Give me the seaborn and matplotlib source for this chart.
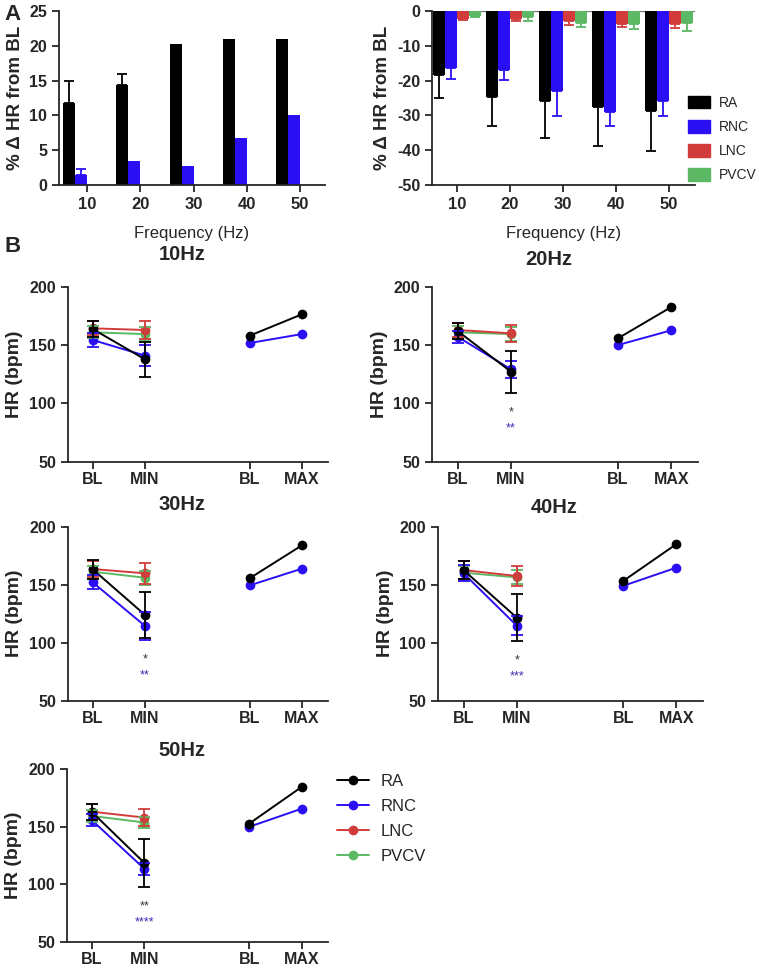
import matplotlib
matplotlib.use('Agg')
import matplotlib.pyplot as plt
import seaborn as sns
import pandas as pd
import numpy as np
from matplotlib.patches import Patch
from matplotlib.lines import Line2D

sns.set_style('ticks')
plt.rcParams['font.family'] = ['Liberation Sans', 'DejaVu Sans']
plt.rcParams['axes.unicode_minus'] = False

groups = ['RA', 'RNC', 'LNC', 'PVCV']
colors = ['#000000', '#2a0ff5', '#d23b3b', '#5cb862']
palette = dict(zip(groups, colors))
freqs = ['10', '20', '30', '40', '50']

# A left: % increase in HR from BL
inc_ra = [11.8, 14.4, 20.3, 21.0, 21.0]
inc_ra_err = [3.1, 1.5, 0, 0, 0]
inc_rnc = [1.4, 3.4, 2.7, 6.8, 10.1]
inc_rnc_err = [0.9, 0, 0, 0, 0]
inc_lnc = [0, 0, 0, 0, 0]
inc_pvcv = [0, 0, 0, 0, 0]

# A right: % decrease in HR from BL
dec_ra = [-18.4, -24.6, -25.9, -27.6, -28.6]
dec_ra_err = [6.5, 8.4, 10.5, 11.1, 11.6]
dec_rnc = [-16.3, -16.9, -23.1, -29.1, -25.9]
dec_rnc_err = [3.1, 3.0, 7.0, 4.0, 4.2]
dec_lnc = [-2.4, -2.4, -2.9, -3.6, -3.6]
dec_lnc_err = [0.2, 0.5, 1.0, 1.1, 1.3]
dec_pvcv = [-1.4, -1.8, -3.4, -3.6, -3.5]
dec_pvcv_err = [0.2, 1.0, 1.1, 1.7, 2.2]

# B: HR (bpm) at BL / MIN for each frequency
bl_ra = [163.7, 162.0, 163.2, 162.6, 162.7]
bl_ra_err = [7, 7, 8, 8, 7]
min_ra = [137.7, 127.1, 123.9, 121.6, 118.6]
min_ra_err = [15, 18, 20, 20, 20.5]
bl_rnc = [154.3, 157.1, 152.0, 159.8, 155.6]
bl_rnc_err = [6, 5, 6, 7, 5]
min_rnc = [140.9, 129.1, 114.4, 114.7, 113.5]
min_rnc_err = [9, 7, 12, 8, 5]
bl_lnc = [164.3, 162.9, 163.5, 162.6, 163.0]
bl_lnc_err = [6, 6, 7, 8, 7]
min_lnc = [162.9, 160.0, 159.8, 157.5, 157.9]
min_lnc_err = [8, 7, 9, 9, 7]
bl_pvcv = [160.9, 160.9, 161.2, 160.3, 159.3]
bl_pvcv_err = [5, 5, 5, 6, 5]
min_pvcv = [159.4, 159.4, 156.0, 156.3, 153.6]
min_pvcv_err = [6, 6, 6, 6, 5]
# BL / MAX
bl2_ra = [158.0, 155.7, 155.5, 153.2, 152.7]
max_ra = [176.3, 182.6, 183.9, 185.0, 184.5]
bl2_rnc = [151.7, 150.0, 149.4, 149.0, 149.9]
max_rnc = [159.4, 162.6, 163.8, 164.7, 165.6]
sig_ra = ['', '*', '*', '*', '**']
sig_rnc = ['', '**', '**', '***', '****']
titles = ['10Hz', '20Hz', '30Hz', '40Hz', '50Hz']

W, H = 759, 969
fig = plt.figure(figsize=(W / 100, H / 100), dpi=100)


def px_axes(x0, y0, x1, y1):
    return fig.add_axes([x0 / W, 1 - y1 / H, (x1 - x0) / W, (y1 - y0) / H])


def style(ax):
    sns.despine(ax=ax)
    for s in ['left', 'bottom']:
        ax.spines[s].set_linewidth(1.3)
    ax.tick_params(width=1.3, length=5)
    for lab in ax.get_xticklabels() + ax.get_yticklabels():
        lab.set_fontweight('bold')


def bar_panel(ax, means, errs):
    df = pd.DataFrame({
        'freq': freqs * len(groups),
        'val': sum(means, []),
        'group': np.repeat(groups, len(freqs)),
    })
    sns.barplot(data=df, x='freq', y='val', hue='group', order=freqs,
                hue_order=groups, palette=palette, errorbar=None, width=0.9,
                saturation=1, linewidth=0, legend=False, ax=ax)
    for cont, m, e, c in zip(ax.containers, means, errs, colors):
        for bar, v, er in zip(cont, m, e):
            if er <= 0:
                continue
            x = bar.get_x() + bar.get_width() / 2
            yerr = [[0], [er]] if v > 0 else [[er], [0]]
            ax.errorbar([x], [v], yerr=yerr, fmt='none', ecolor=c,
                        elinewidth=1.3, capsize=3.5, capthick=1.3)
    ax.set_xlabel('Frequency (Hz)', fontsize=12, labelpad=10)
    ax.set_ylabel('% Δ HR from BL', fontsize=13.5, fontweight='bold')
    ax.tick_params(axis='x', labelsize=12)
    ax.tick_params(axis='y', labelsize=11.5)


# ---- A ----
axA1 = px_axes(59, 11, 325, 185)
bar_panel(axA1, [inc_ra, inc_rnc, inc_lnc, inc_pvcv],
          [inc_ra_err, inc_rnc_err, [0] * 5, [0] * 5])
axA1.set_ylim(0, 25)
axA1.set_yticks([0, 5, 10, 15, 20, 25])
axA1.set_xlim(-0.53, 4.47)
style(axA1)

axA2 = px_axes(432, 11, 695, 185)
bar_panel(axA2, [dec_ra, dec_rnc, dec_lnc, dec_pvcv],
          [dec_ra_err, dec_rnc_err, dec_lnc_err, dec_pvcv_err])
axA2.set_ylim(-50, 0)
axA2.set_yticks([0, -10, -20, -30, -40, -50])
axA2.set_xlim(-0.47, 4.49)
axA2.axhline(0, color='0.45', lw=0.9, zorder=0)
style(axA2)

fig.legend([Patch(color=c) for c in colors], groups, loc='upper left',
           bbox_to_anchor=(688 / W, 1 - 96 / H), frameon=False, fontsize=10,
           handlelength=1.6, handleheight=1.0, labelspacing=0.73,
           handletextpad=0.6, borderaxespad=0, borderpad=0)

# ---- B ----
boxes = [(67.7, 286.7, 328, 461.7), (432, 286.7, 698, 461.7),
         (67.7, 526.7, 328, 700.7), (438, 526.7, 703, 700.7),
         (66.7, 769, 328, 942)]
pads = [19, 15.5, 12, 10, 9.5]
draw_order = ['PVCV', 'LNC', 'RNC', 'RA']

for i, (box, title, pad) in enumerate(zip(boxes, titles, pads)):
    ax = px_axes(*box)
    bl = {'RA': bl_ra[i], 'RNC': bl_rnc[i], 'LNC': bl_lnc[i], 'PVCV': bl_pvcv[i]}
    mn = {'RA': min_ra[i], 'RNC': min_rnc[i], 'LNC': min_lnc[i], 'PVCV': min_pvcv[i]}
    ble = {'RA': bl_ra_err[i], 'RNC': bl_rnc_err[i], 'LNC': bl_lnc_err[i],
           'PVCV': bl_pvcv_err[i]}
    mne = {'RA': min_ra_err[i], 'RNC': min_rnc_err[i], 'LNC': min_lnc_err[i],
           'PVCV': min_pvcv_err[i]}
    rows = []
    for g in groups:
        rows += [(g, 0, bl[g], 'a'), (g, 1, mn[g], 'a')]
    rows += [('RA', 3, bl2_ra[i], 'b'), ('RA', 4, max_ra[i], 'b'),
             ('RNC', 3, bl2_rnc[i], 'b'), ('RNC', 4, max_rnc[i], 'b')]
    df = pd.DataFrame(rows, columns=['group', 'pos', 'hr', 'seg'])
    sns.lineplot(data=df, x='pos', y='hr', hue='group', units='seg',
                 estimator=None, hue_order=draw_order, palette=palette,
                 marker='o', markersize=7, markeredgewidth=0, linewidth=1.4,
                 legend=False, sort=False, ax=ax)
    for g in draw_order:
        ax.errorbar([0, 1], [bl[g], mn[g]], yerr=[ble[g], mne[g]], fmt='none',
                    ecolor=palette[g], elinewidth=1.3, capsize=4, capthick=1.3)
    if sig_ra[i]:
        low = min(min_ra[i] - min_ra_err[i], min_rnc[i] - min_rnc_err[i])
        ax.text(1, low - 17, sig_ra[i], color='0.2', ha='center',
                va='center', fontsize=9)
        ax.text(1, low - 31, sig_rnc[i], color='#3a2bb5', ha='center',
                va='center', fontsize=9)
    ax.set_xlim(-0.48, 4.5)
    ax.set_ylim(50, 200)
    ax.set_xticks([0, 1, 3, 4])
    ax.set_xticklabels(['BL', 'MIN', 'BL', 'MAX'])
    ax.set_yticks([50, 100, 150, 200])
    ax.set_xlabel('')
    ax.set_ylabel('HR (bpm)', fontsize=14, fontweight='bold')
    ax.set_title(title, fontsize=14.5, fontweight='bold', pad=pad, x=0.44)
    ax.tick_params(labelsize=11.5)
    style(ax)
    ax.tick_params(axis='x', pad=2.5)

fig.legend([Line2D([0], [0], color=c, marker='o', markersize=7, lw=1.4,
                   markeredgewidth=0) for c in colors], groups,
           loc='upper left', bbox_to_anchor=(337 / W, 1 - 774 / H),
           frameon=False, fontsize=12, handlelength=1.9, labelspacing=0.6,
           handletextpad=0.7, borderaxespad=0, borderpad=0)

fig.text(4 / W, 1 - 4 / H, 'A', fontsize=16, fontweight='bold', va='top')
fig.text(4 / W, 1 - 236 / H, 'B', fontsize=16, fontweight='bold', va='top')

fig.savefig('out.png', dpi=100)
